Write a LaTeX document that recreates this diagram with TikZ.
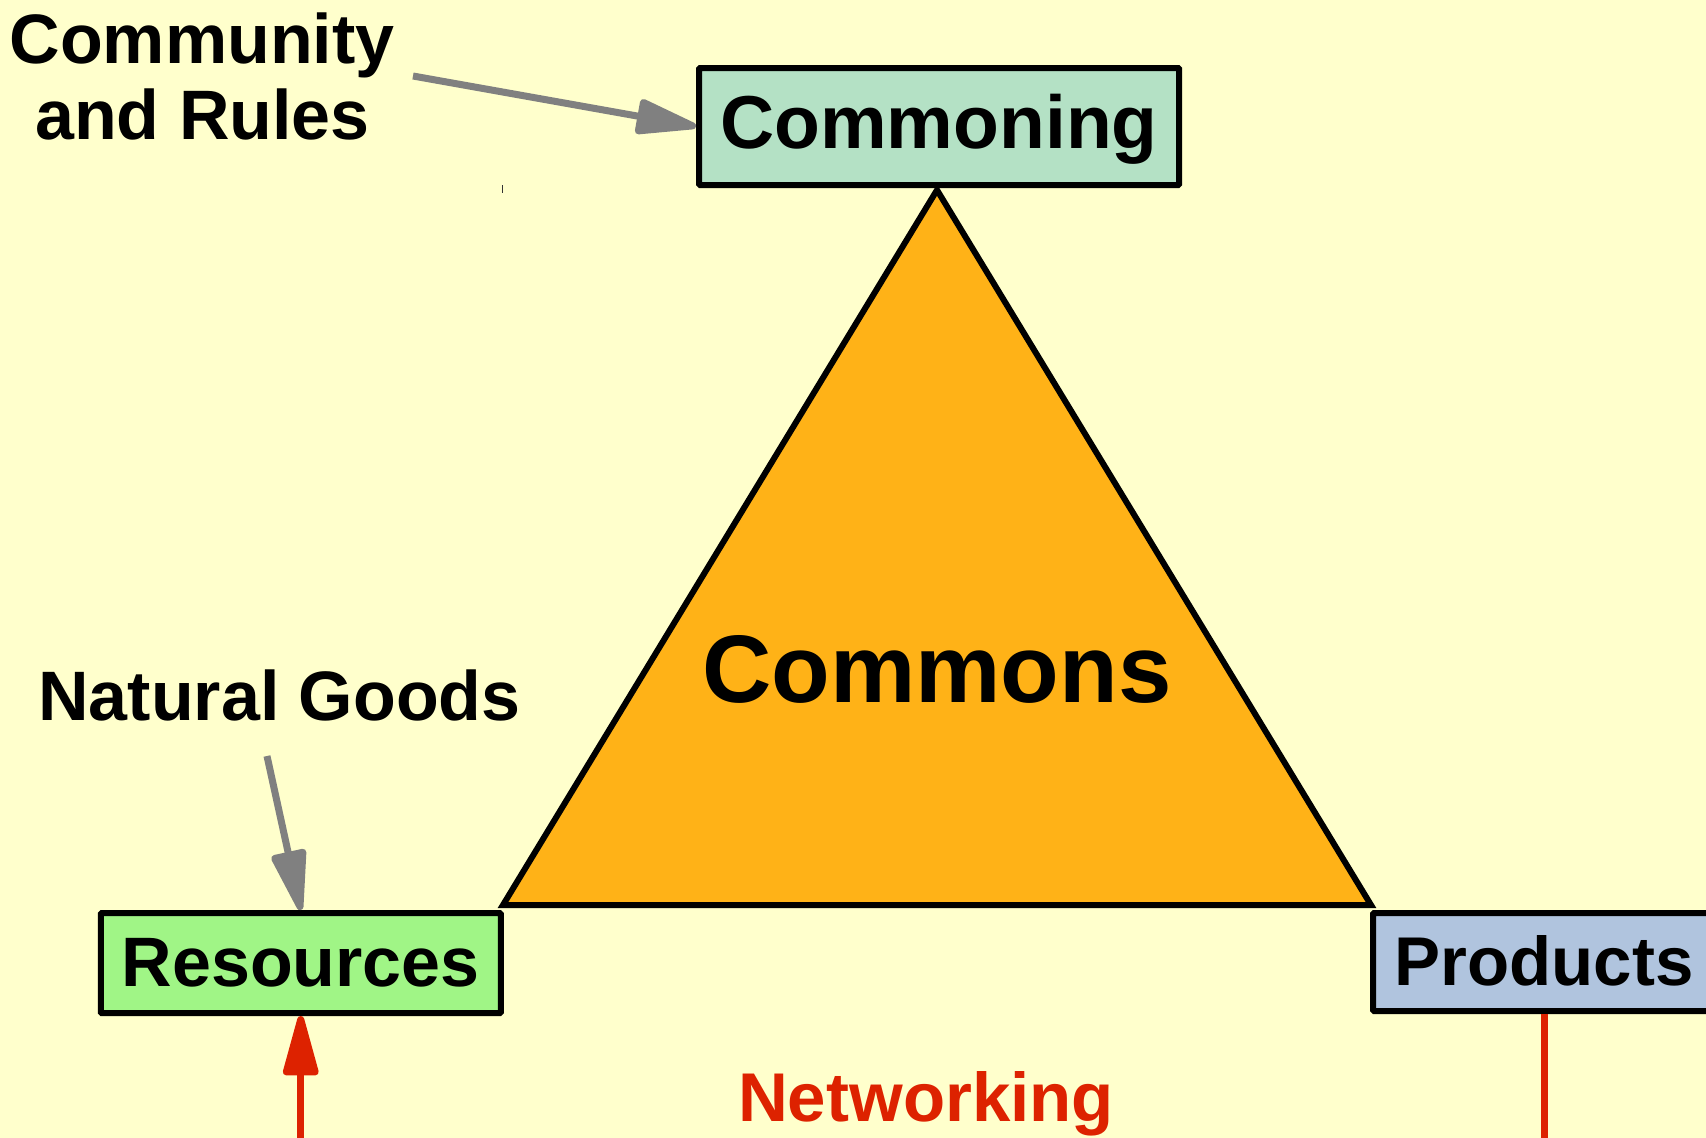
\documentclass[tikz,border=0pt]{standalone}
\usepackage{fontspec}
\setmainfont{Liberation Sans}
\usetikzlibrary{arrows.meta}
\definecolor{bgc}{HTML}{FFFFCC}
\definecolor{mint}{HTML}{B4E1C5}
\definecolor{lgreen}{HTML}{A0F586}
\definecolor{lblue}{HTML}{B0C4DE}
\definecolor{orng}{HTML}{FFB217}
\definecolor{netred}{HTML}{DD2200}
\definecolor{arrgray}{HTML}{808080}
\newcommand\fsz[1]{\fontsize{#1pt}{#1pt}\selectfont\bfseries}
\begin{document}
\begin{tikzpicture}[x=1pt,y=-1pt,
  box/.style={draw=black, line width=6pt, inner sep=0pt, rounded corners=1pt},
  lbl/.style={anchor=base, inner sep=0pt},
  grayarrow/.style={draw=arrgray, line width=7pt, -{Triangle[length=70pt,width=36pt,round]}},
  redarrow/.style={draw=netred, line width=7pt, -{Triangle[length=70pt,width=36pt,round]}},
  redline/.style={draw=netred, line width=7pt}]
\useasboundingbox (0,0) rectangle (1706,1138);
\fill[bgc] (0,0) rectangle (1706,1138);
\clip (0,0) rectangle (1706,1138);
% triangle
\draw[line width=6pt, fill=orng, line join=miter] (937,190) -- (1371,905) -- (503,905) -- cycle;
% boxes
\node[box, fill=mint, minimum width=480pt, minimum height=117pt, text height=54pt, text depth=11pt, font=\fsz{75}] (commoning) at (939,126.5) {Commoning};
\node[box, fill=lgreen, minimum width=400pt, minimum height=100pt, text height=50pt, text depth=4pt, font=\fsz{70}] (resources) at (300.75,963) {Resources};
\node[box, fill=lblue, minimum width=342pt, minimum height=98pt, text height=50pt, text depth=4pt, font=\fsz{69}] (products) at (1544,962) {Products};
% labels
\node[lbl, font=\fsz{70}] (comm1) at (202,63) {Community};
\node[lbl, font=\fsz{70}] (comm2) at (202.5,139) {and Rules};
\node[lbl, font=\fsz{96}] (commons) at (937,702) {Commons};
\node[lbl, font=\fsz{70}] (natural) at (279.5,720) {Natural Goods};
\node[lbl, font=\fsz{69}, text=netred] (networking) at (926,1121) {Networking};
% connectors
\coordinate (crstart) at (413,76);
\draw[grayarrow] (crstart) -- (commoning.west);
\coordinate (ngstart) at (267,756);
\draw[grayarrow] (ngstart) -- (resources.north);
\coordinate (redbottom) at (300.75,1150);
\draw[redarrow] (redbottom) -- (resources.south);
\coordinate (prodbottom) at (1544,1150);
\draw[redline] (products.south) -- (prodbottom);
% stray tick
\draw[line width=1.5pt, black!80] (502.5,185) -- (502.5,193);
\end{tikzpicture}
\end{document}
